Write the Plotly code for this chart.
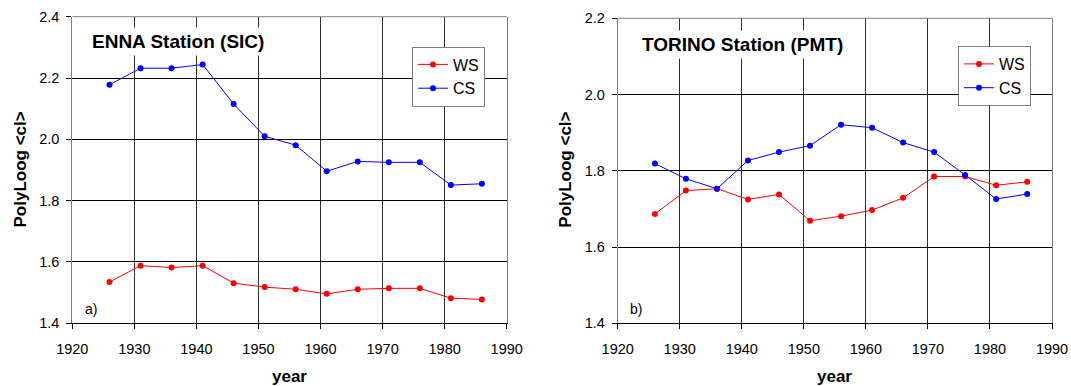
import plotly.graph_objects as go

years = [1926, 1931, 1936, 1941, 1946, 1951, 1956, 1961, 1966, 1971, 1976, 1981, 1986]

enna_ws = [1.535, 1.588, 1.582, 1.588, 1.531, 1.518, 1.511, 1.496, 1.511, 1.514, 1.514, 1.482, 1.478]
enna_cs = [2.178, 2.232, 2.232, 2.244, 2.115, 2.010, 1.981, 1.896, 1.928, 1.925, 1.925, 1.851, 1.855]

torino_ws = [1.687, 1.748, 1.753, 1.725, 1.738, 1.669, 1.681, 1.697, 1.729, 1.785, 1.785, 1.762, 1.771]
torino_cs = [1.819, 1.779, 1.753, 1.827, 1.849, 1.866, 1.921, 1.913, 1.874, 1.849, 1.789, 1.726, 1.739]

series_names = ["WS", "CS"]
series_colors = ["#ff0000", "#0000ff"]
x_ticks = [1920, 1930, 1940, 1950, 1960, 1970, 1980, 1990]

W, H = 1071, 386
FONT = "Liberation Sans, Arial, sans-serif"

fig = go.Figure()

panels = [
    dict(ws=enna_ws, cs=enna_cs, xa="x", ya="y", legend="legend"),
    dict(ws=torino_ws, cs=torino_cs, xa="x2", ya="y2", legend="legend2"),
]
for p in panels:
    for name, vals, col in zip(series_names, [p["ws"], p["cs"]], series_colors):
        fig.add_trace(go.Scatter(
            x=years, y=vals, name=name, mode="lines+markers",
            line=dict(color=col, width=1),
            marker=dict(color=col, size=6, symbol="circle"),
            xaxis=p["xa"], yaxis=p["ya"], legend=p["legend"],
        ))

def px_x(v):
    return v / W

def px_y(v):
    return 1 - v / H

common_x = dict(
    range=[1920, 1990], tickvals=x_ticks, showgrid=True, gridcolor="#303030", gridwidth=1,
    zeroline=False, showline=True, linecolor="#000000", linewidth=1,
    ticks="outside", ticklen=5, tickcolor="#000000", ticklabelstandoff=7, automargin=False,
    tickfont=dict(family=FONT, size=14.5, color="#000000"),
    fixedrange=True,
)
common_y = dict(
    dtick=0.2, tickformat=".1f", showgrid=True, gridcolor="#000000", gridwidth=1,
    zeroline=False, showline=True, mirror=True, linecolor="#808080", linewidth=1,
    ticks="outside", ticklen=5, tickcolor="#000000", ticklabelstandoff=4, automargin=False,
    tickfont=dict(family=FONT, size=14.5, color="#000000"),
    fixedrange=True,
)

fig.update_layout(
    width=W, height=H,
    margin=dict(l=0, r=0, t=0, b=0, autoexpand=False),
    paper_bgcolor="white", plot_bgcolor="white",
    font=dict(family=FONT, color="#000000"),
    xaxis=dict(common_x, domain=[px_x(72.3), px_x(506.7)], anchor="y"),
    yaxis=dict(common_y, range=[1.4, 2.4], domain=[px_y(323.3), px_y(16.7)], anchor="x"),
    xaxis2=dict(common_x, domain=[px_x(617.7), px_x(1052)], anchor="y2"),
    yaxis2=dict(common_y, range=[1.4, 2.2], domain=[px_y(323.3), px_y(18.3)], anchor="x2"),
    legend=dict(x=px_x(412), y=px_y(76.5), xanchor="left", yanchor="middle",
                bgcolor="white", bordercolor="#808080", borderwidth=1,
                font=dict(family=FONT, size=16, color="#000000"), itemwidth=30, tracegroupgap=0),
    legend2=dict(x=px_x(958), y=px_y(76), xanchor="left", yanchor="middle",
                 bgcolor="white", bordercolor="#808080", borderwidth=1,
                 font=dict(family=FONT, size=16, color="#000000"), itemwidth=30, tracegroupgap=0),
    showlegend=True,
)

# top border lines (gray) of each plot frame
for xr, yr in [("x domain", "y domain"), ("x2 domain", "y2 domain")]:
    fig.add_shape(type="line", xref=xr, yref=yr, x0=0, x1=1, y0=1, y1=1,
                  line=dict(color="#808080", width=1))

annots = [
    ("<b>ENNA Station (SIC)</b>", 88.3, 41.7, 19, True),
    ("<b>TORINO Station (PMT)</b>", 637.7, 44.7, 19, True),
    ("a)", 84.3, 309, 14, False),
    ("b)", 629.3, 309, 14, False),
]
for text, x, y, size, bg in annots:
    fig.add_annotation(
        text=text, xref="paper", yref="paper", x=px_x(x), y=px_y(y),
        xanchor="left", yanchor="middle", showarrow=False,
        font=dict(family=FONT, size=size, color="#000000"),
        bgcolor="white" if bg else None, borderpad=3 if bg else 0,
    )

# axis titles
for cx in [(72.3 + 506.7) / 2, (617.7 + 1052) / 2]:
    fig.add_annotation(text="<b>year</b>", xref="paper", yref="paper",
                       x=px_x(cx), y=px_y(376), xanchor="center", yanchor="middle",
                       showarrow=False, font=dict(family=FONT, size=17, color="#000000"))
for cx in [19.5, 564.7]:
    fig.add_annotation(text="<b>PolyLoog &lt;cl&gt;</b>", xref="paper", yref="paper",
                       x=px_x(cx), y=px_y(170), xanchor="center", yanchor="middle",
                       textangle=-90, showarrow=False,
                       font=dict(family=FONT, size=17, color="#000000"))

fig.write_html("out.html")
